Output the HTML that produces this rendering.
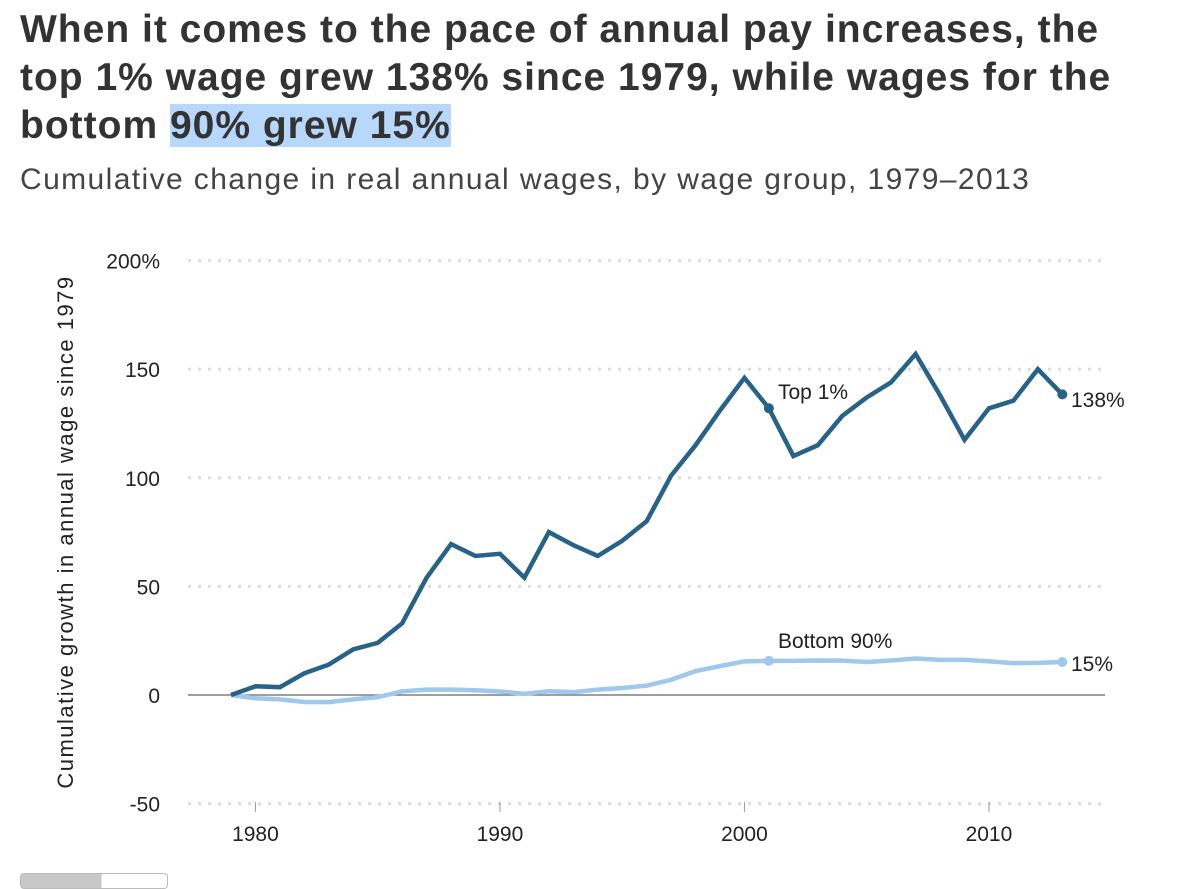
<!DOCTYPE html>
<html><head><meta charset="utf-8"><style>
body{margin:0;width:1200px;height:881px;background:#fff;font-family:"Liberation Sans",sans-serif;overflow:hidden;position:relative}
h1{position:absolute;left:20px;top:6px;margin:0;font-size:39px;line-height:48px;font-weight:bold;color:#333;width:1110px;letter-spacing:1px}
.hl{background:#b7d8fb}
.sub{position:absolute;left:20px;top:163px;font-size:30px;letter-spacing:1.4px;color:#444}
svg{position:absolute;left:0;top:0}
</style></head><body>
<h1>When it comes to the pace of annual pay increases, the top 1% wage grew 138% since 1979, while wages for the bottom <span class="hl">90% grew 15%</span></h1>
<div class="sub">Cumulative change in real annual wages, by wage group, 1979–2013</div>
<svg id="c" width="1200" height="881"></svg>
<div style="position:absolute;left:20px;top:873px;width:146px;height:14px;border:1px solid #bbb;border-radius:4px;background:linear-gradient(to right,#c8c8c8 55%,#fff 55%)"></div>
<script>
const years=[];for(let y=1979;y<=2013;y++)years.push(y);
const top1=[0,4,3.6,10,14,21,24,33,54,69.5,64,65,54,75,69,64,71,80,101,115,131,146,132,110,115,128.5,137,144,157,138,117.5,132,135.5,150,138.4];
const bottom90=[0,-1.5,-2,-3.2,-3.3,-2,-1,1.7,2.5,2.5,2.2,1.6,0.5,1.7,1.3,2.5,3.2,4.3,7,11,13.3,15.5,15.7,15.7,15.9,15.8,15.2,15.9,16.8,16.2,16.2,15.5,14.7,14.8,15.2];
const yTicks=[200,150,100,50,0,-50];
const yTickLabels=["200%","150","100","50","0","-50"];
const xTicks=[1980,1990,2000,2010];
const svg=document.getElementById('c');const NS='http://www.w3.org/2000/svg';
const X=v=>231+(v-1979)*24.45;
const Y=v=>695-v*2.172;
function mk(t,a,p){const e=document.createElementNS(NS,t);for(const k in a)e.setAttribute(k,a[k]);(p||svg).appendChild(e);return e;}
yTicks.forEach((t,i)=>{
 let l;
 if(t===0){l=mk('line',{x1:188,x2:1105,y1:Y(t),y2:Y(t),stroke:'#666','stroke-width':1.2});}
 else{l=mk('line',{x1:188,x2:1105,y1:Y(t),y2:Y(t),stroke:'#ddd','stroke-width':3,'stroke-dasharray':'3 7'});}
 
 
 const tx=mk('text',{x:160,y:Y(t)+8,'text-anchor':'end','font-size':21,fill:'#222'});tx.textContent=yTickLabels[i];
 
 
});
xTicks.forEach(t=>{
 const tk=mk('line',{x1:X(t),x2:X(t),y1:802,y2:812,stroke:'#999','stroke-width':1});
 
 
 const tx=mk('text',{x:X(t),y:841,'text-anchor':'middle','font-size':21,fill:'#222'});tx.textContent=t;
 
 
});
const yt=mk('text',{transform:'translate(73,532) rotate(-90)','text-anchor':'middle','font-size':22,'letter-spacing':1.5,fill:'#222'});yt.textContent='Cumulative growth in annual wage since 1979';


function series(vals,color,name){
 const p=mk('polyline',{points:vals.map((v,i)=>X(years[i])+','+Y(v)).join(' '),fill:'none',stroke:color,'stroke-width':4.5,'stroke-linejoin':'miter'});
 
 
 [22,34].forEach(i=>{const c=mk('circle',{cx:X(years[i]),cy:Y(vals[i]),r:5,fill:color});
 
 });
}
series(bottom90,'#9ec8ec','bottom-90-line');
series(top1,'#276288','top-1-line');
function lab(x,y,t,n){const e=mk('text',{x:x,y:y,'font-size':21,fill:'#222'});e.textContent=t;
 
 }
lab(778,399,'Top 1%','top-1-label');
lab(1071,407,Math.round(top1[34])+'%','top-1-end-label');
lab(778,648,'Bottom 90%','bottom-90-label');
lab(1071,671,Math.round(bottom90[34])+'%','bottom-90-end-label');
</script>
</body></html>
